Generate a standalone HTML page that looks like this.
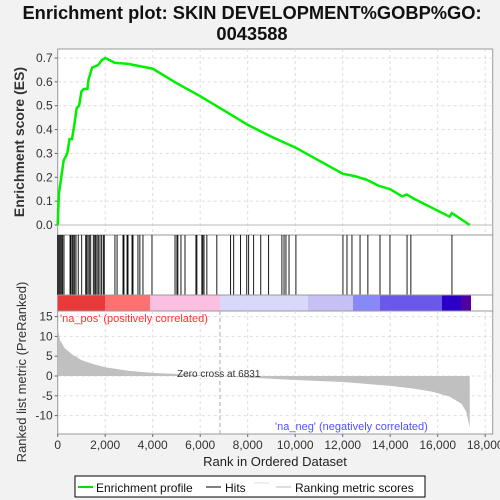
<!DOCTYPE html>
<html><head><meta charset="utf-8"><style>
html,body{margin:0;padding:0;background:#f2f2f2;}
svg{display:block;font-family:"Liberation Sans","DejaVu Sans",sans-serif;}
</style></head><body>
<svg id="chart" width="500" height="500" viewBox="0 0 500 500">
<rect x="0" y="0" width="500" height="500" fill="#f2f2f2"/>
<text x="252" y="19" text-anchor="middle" font-size="18.3" font-weight="bold" fill="#111">Enrichment plot: SKIN DEVELOPMENT%GOBP%GO:</text>
<text x="252" y="40" text-anchor="middle" font-size="18.3" font-weight="bold" fill="#111">0043588</text>
<g id="topPanel"></g><g id="hitsPanel"></g><g id="bottomPanel"></g>
<g>
<rect x="75" y="476" width="350" height="21" fill="#fff" stroke="#000"/>
<line x1="78" y1="487" x2="93" y2="487" stroke="#00e000" stroke-width="2"/>
<text x="96" y="492" font-size="12" fill="#111">Enrichment profile</text>
<line x1="206" y1="487" x2="221" y2="487" stroke="#000"/>
<text x="225" y="492" font-size="12" fill="#111">Hits</text>
<line x1="254" y1="483" x2="269" y2="483" stroke="#ddd"/>
<line x1="276" y1="487" x2="291" y2="487" stroke="#bbb"/>
<text x="295" y="492" font-size="12" fill="#111">Ranking metric scores</text>
</g>
</svg>
<script>
const esRanks = [0,50,150,250,400,500,600,700,800,900,1000,1100,1250,1300,1450,1700,1850,2000,2400,3000,3500,4000,5000,6000,7000,8000,9000,10000,11000,12000,12500,13000,13500,14000,14500,14700,15000,16000,16500,16600,17350];
const esValues = [0,0.13,0.2,0.27,0.3,0.36,0.36,0.42,0.49,0.5,0.56,0.57,0.57,0.61,0.66,0.67,0.69,0.70,0.68,0.675,0.665,0.655,0.595,0.54,0.48,0.42,0.37,0.325,0.27,0.215,0.205,0.19,0.165,0.15,0.12,0.128,0.11,0.06,0.035,0.05,0.0];
const hitRanks = [0,25,70,125,170,210,265,520,560,615,655,715,770,865,1010,1180,1220,1275,1330,1390,1500,1560,1600,1655,1710,1780,1850,1920,1960,2410,2500,2750,2790,2920,2960,3130,3170,3380,3460,3590,3970,4940,5020,5060,5190,5360,5820,5860,6070,6110,6160,6280,6700,7280,7410,7700,7960,8040,8250,8550,8880,9440,9530,9610,9740,10030,12010,12180,12390,12730,13060,13570,13990,14710,14870,16600];
const metricRanks = [0,100,300,600,1000,1500,2000,3000,4000,5000,6000,6831,8000,10000,12000,13000,14000,15000,15800,16500,17000,17200,17350];
const metricValues = [12,9,7,5.5,4,3,2.2,1.3,0.8,0.5,0.2,0,-0.4,-1,-1.5,-2,-2.5,-3.2,-4,-5.2,-7,-9,-13];
const esTicks = [0,0.1,0.2,0.3,0.4,0.5,0.6,0.7];
const metricTicks = [15,10,5,0,-5,-10];
const xTicks = [0,2000,4000,6000,8000,10000,12000,14000,16000,18000];

const NS="http://www.w3.org/2000/svg";
const L=57.7,R=492.7;
const xs=r=>L+r*(47.5/2000);
const yES=v=>225-v*(167/0.7);
const yM=v=>376-v*(19.8/5);
function mk(p,tag,a){const e=document.createElementNS(NS,tag);for(const k in a)e.setAttribute(k,a[k]);p.appendChild(e);return e;}
const topG=document.getElementById('topPanel'),hitsG=document.getElementById('hitsPanel'),botG=document.getElementById('bottomPanel');

let f=mk(topG,'rect',{x:L,y:49,width:R-L,height:186,fill:'#fff',stroke:'#999'});


xTicks.forEach(t=>{if(t>0){mk(topG,'line',{x1:xs(t),x2:xs(t),y1:49,y2:235,stroke:'#ddd','stroke-dasharray':'3,3'});}});
esTicks.forEach(t=>{
 mk(topG,'line',{x1:L,x2:R,y1:yES(t),y2:yES(t),stroke:'#ddd','stroke-dasharray':'3,3'});
 mk(topG,'line',{x1:L-3,x2:L,y1:yES(t),y2:yES(t),stroke:'#666'});
 const tx=mk(topG,'text',{x:L-5,y:yES(t)+4,'text-anchor':'end','font-size':12,fill:'#333'});
 tx.textContent=t.toFixed(1);
 
 
});
mk(topG,'line',{x1:L,x2:R,y1:yES(0),y2:yES(0),stroke:'#bbb'});
let pts=esRanks.map((r,i)=>xs(r)+','+yES(esValues[i])).join(' ');
const line=mk(topG,'polyline',{points:pts,fill:'none',stroke:'#00ee00','stroke-width':2.5});


const yl=mk(topG,'text',{x:0,y:0,transform:'translate(24,142) rotate(-90)','text-anchor':'middle','font-size':14,'font-weight':'bold',fill:'#333'});
yl.textContent='Enrichment score (ES)';



mk(hitsG,'rect',{x:L,y:235,width:R-L,height:76,fill:'#fff',stroke:'#999'});
hitRanks.forEach(r=>{
 const h=mk(hitsG,'line',{x1:xs(r),x2:xs(r),y1:235,y2:295,stroke:'#000','stroke-width':0.9});
 
 
});
const segs=[[57.7,105,'#e83a3a'],[105,150,'#ff7070'],[150,220,'#fbbfe2'],[220,308,'#d8d8f8'],[308,353,'#c6c0f4'],[353,380,'#8888f8'],[380,442,'#6a58ea'],[442,461,'#2a00c8'],[461,471,'#5000a0']];
segs.forEach(s=>{const c=mk(hitsG,'rect',{x:s[0],y:295,width:s[1]-s[0],height:16,fill:s[2]});
 
 });
mk(hitsG,'line',{x1:L,x2:R,y1:295,y2:295,stroke:'#999'});

mk(botG,'rect',{x:L,y:311,width:R-L,height:123,fill:'#fff',stroke:'#999'});
xTicks.forEach(t=>{
 if(t>0)mk(botG,'line',{x1:xs(t),x2:xs(t),y1:311,y2:434,stroke:'#ddd','stroke-dasharray':'3,3'});
 mk(botG,'line',{x1:xs(t),x2:xs(t),y1:434,y2:437,stroke:'#666'});
 const tx=mk(botG,'text',{x:xs(t),y:449,'text-anchor':'middle','font-size':12,fill:'#333'});
 tx.textContent=t.toLocaleString('en-US');
 
 
});
metricTicks.forEach(t=>{
 mk(botG,'line',{x1:L,x2:R,y1:yM(t),y2:yM(t),stroke:'#ddd','stroke-dasharray':'3,3'});
 mk(botG,'line',{x1:L-3,x2:L,y1:yM(t),y2:yM(t),stroke:'#666'});
 const tx=mk(botG,'text',{x:L-5,y:yM(t)+4,'text-anchor':'end','font-size':12,fill:'#333'});
 tx.textContent=t;
 
 
});
let ap='M'+xs(0)+','+yM(0)+' '+metricRanks.map((r,i)=>'L'+xs(r)+','+yM(metricValues[i])).join(' ')+' L'+xs(metricRanks[metricRanks.length-1])+','+yM(0)+'Z';
const area=mk(botG,'path',{d:ap,fill:'#c0c0c0'});


mk(botG,'line',{x1:xs(6831),x2:xs(6831),y1:311,y2:434,stroke:'#aaa','stroke-dasharray':'4,3'});
const zc=mk(botG,'text',{x:177,y:377,'font-size':10,fill:'#333'});zc.textContent='Zero cross at 6831';


const pl=mk(botG,'text',{x:60,y:322,'font-size':11,fill:'#ff3030'});pl.textContent="'na_pos' (positively correlated)";


const nl=mk(botG,'text',{x:275,y:430,'font-size':11,fill:'#5050ff'});nl.textContent="'na_neg' (negatively correlated)";


const yl2=mk(botG,'text',{x:0,y:0,transform:'translate(26,372) rotate(-90)','text-anchor':'middle','font-size':13,fill:'#333'});
yl2.textContent='Ranked list metric (PreRanked)';


const xl=mk(botG,'text',{x:275,y:466,'text-anchor':'middle','font-size':13,fill:'#222'});
xl.textContent='Rank in Ordered Dataset';


</script>
</body></html>
